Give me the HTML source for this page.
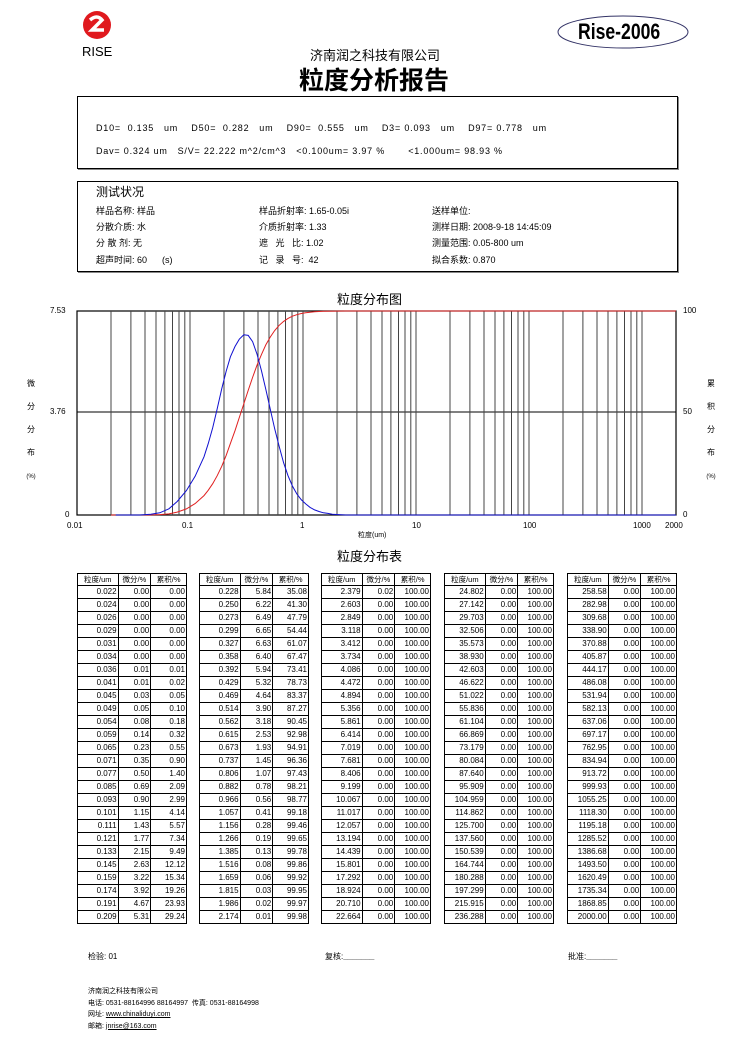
<!DOCTYPE html>
<html><head><meta charset="utf-8">
<style>
body{margin:0;background:#fff;}
#p{position:relative;width:739px;height:1062px;overflow:hidden;font-family:"Liberation Sans","Noto Sans CJK SC",sans-serif;color:#000;}
.a{position:absolute;white-space:nowrap;}
.box{position:absolute;border:1px solid #000;box-shadow:1px 1px 0 #888;}
.s{font-size:9px;}
.m{font-size:9px;letter-spacing:0.8px;}
table{position:absolute;border-collapse:collapse;font-size:8px;top:573px;}
td{border:1px solid #000;height:12px;padding:0 1px 0 0;text-align:right;line-height:12px;}
tr.h td{text-align:center;height:11px;line-height:11px;font-size:7.5px;padding:0;}
</style></head><body><div id="p">
<svg class="a" style="left:0;top:0" width="739" height="1062">
<circle cx="97" cy="25" r="14" fill="#e0191e"/>
<path d="M90 20 q7 -6 12 0 l-10 10 h12" stroke="#fff" stroke-width="3.5" fill="none"/>
<ellipse cx="623" cy="32" rx="65" ry="16" fill="none" stroke="#336" stroke-width="1"/>
<g stroke="#000" stroke-width="1">
<rect x="77" y="311" width="599" height="204" fill="none" stroke-width="1.2"/>
<line x1="77" y1="412" x2="676" y2="412"/>
<path d="M111 311V515M130.9 311V515M145 311V515M156 311V515M164.9 311V515M172.5 311V515M179 311V515M184.8 311V515M190 311V515M224 311V515M243.9 311V515M258 311V515M269 311V515M277.9 311V515M285.5 311V515M292 311V515M297.8 311V515M303 311V515M337 311V515M356.9 311V515M371 311V515M382 311V515M390.9 311V515M398.5 311V515M405 311V515M410.8 311V515M416 311V515M450 311V515M469.9 311V515M484 311V515M495 311V515M503.9 311V515M511.5 311V515M518 311V515M523.8 311V515M529 311V515M563 311V515M582.9 311V515M597 311V515M608 311V515M616.9 311V515M624.5 311V515M631 311V515M636.8 311V515M642 311V515" stroke="#444"/>
</g>
<polyline fill="none" stroke="#e02020" stroke-width="1" points="111,515 139.9,515 150.8,514.9 159.8,514.6 168.9,513.9 177.2,512.1 186.4,508.9 195.1,503.6 204,495.6 208.2,490.3 212.7,483.7 217.2,475.7 221.8,466.2 226.2,455.3 230.4,443.4 235,430.7 239.3,417.5 243.8,403.9 248.2,390.4 252.6,377.4 257,365.2 261.5,354.4 265.8,344.9 270.3,337 274.7,330.5 279.2,325.3 283.6,321.4 288,318.4 292.4,316.2 296.8,314.7 301.3,313.5 305.7,312.7 314.6,311.7 323.4,311.3 345.5,311 676,311"/>
<polyline fill="none" stroke="#1010d0" stroke-width="1" points="115.7,515 139.9,515 150.8,514.2 159.8,512.8 168.9,508.8 177.2,501.5 186.4,490.6 195.1,476.3 204,456.8 208.2,443.7 212.7,427.8 217.2,408.8 221.8,388.5 226.2,371.1 230.4,356.8 235,346.5 239.3,339.2 243.8,334.8 248.2,335.4 252.6,341.6 257,354.1 261.5,370.9 265.8,389.3 270.3,409.3 274.7,428.8 279.2,446.5 283.6,462.7 288,475.7 292.4,486 296.8,493.9 301.3,499.8 305.7,503.9 310.1,507.4 314.6,509.9 319,511.5 323.4,512.8 327.9,513.4 332.3,514.2 336.7,514.5 345.5,515 676,515"/>
</svg>
<div class="a" style="left:82px;top:44px;font-size:13px;">RISE</div>
<div class="a" style="left:578px;top:19px;font-size:22px;font-weight:bold;transform:scaleX(0.8);transform-origin:left;">Rise-2006</div>
<div class="a" style="left:310px;top:45px;font-size:13px;">济南润之科技有限公司</div>
<div class="a" style="left:299px;top:61px;font-size:25px;font-weight:bold;">粒度分析报告</div>

<div class="box" style="left:77px;top:96px;width:599px;height:71px;"></div>
<div class="a m" style="left:96px;top:123px;">D10=&nbsp; 0.135&nbsp;&nbsp; um&nbsp;&nbsp;&nbsp; D50=&nbsp; 0.282&nbsp;&nbsp; um&nbsp;&nbsp;&nbsp; D90=&nbsp; 0.555&nbsp;&nbsp; um&nbsp;&nbsp;&nbsp; D3= 0.093&nbsp;&nbsp; um&nbsp;&nbsp;&nbsp; D97= 0.778&nbsp;&nbsp; um</div>
<div class="a m" style="left:96px;top:146px;">Dav= 0.324 um&nbsp;&nbsp; S/V= 22.222 m^2/cm^3&nbsp;&nbsp; &lt;0.100um= 3.97 %&nbsp;&nbsp;&nbsp;&nbsp;&nbsp;&nbsp; &lt;1.000um= 98.93 %</div>

<div class="box" style="left:77px;top:181px;width:599px;height:89px;"></div>
<div class="a" style="left:96px;top:183px;font-size:12px;">测试状况</div>
<div class="a s" style="left:96px;top:204px;">样品名称: 样品</div>
<div class="a s" style="left:96px;top:220px;">分散介质: 水</div>
<div class="a s" style="left:96px;top:236px;">分 散 剂: 无</div>
<div class="a s" style="left:96px;top:253px;">超声时间: 60&nbsp;&nbsp;&nbsp;&nbsp;&nbsp; (s)</div>
<div class="a s" style="left:259px;top:204px;">样品折射率: 1.65-0.05i</div>
<div class="a s" style="left:259px;top:220px;">介质折射率: 1.33</div>
<div class="a s" style="left:259px;top:236px;">遮&nbsp;&nbsp; 光&nbsp;&nbsp; 比: 1.02</div>
<div class="a s" style="left:259px;top:253px;">记&nbsp;&nbsp; 录&nbsp;&nbsp; 号:&nbsp; 42</div>
<div class="a s" style="left:432px;top:204px;">送样单位:</div>
<div class="a s" style="left:432px;top:220px;">测样日期: 2008-9-18 14:45:09</div>
<div class="a s" style="left:432px;top:236px;">测量范围: 0.05-800 um</div>
<div class="a s" style="left:432px;top:253px;">拟合系数: 0.870</div>

<div class="a" style="left:337px;top:289px;font-size:13px;">粒度分布图</div>
<div class="a" style="left:50px;top:306px;font-size:8px;">7.53</div>
<div class="a" style="left:50px;top:407px;font-size:8px;">3.76</div>
<div class="a" style="left:65px;top:510px;font-size:8px;">0</div>
<div class="a" style="left:683px;top:306px;font-size:8px;">100</div>
<div class="a" style="left:683px;top:407px;font-size:8px;">50</div>
<div class="a" style="left:683px;top:510px;font-size:8px;">0</div>
<div class="a" style="left:25px;top:372px;font-size:8px;line-height:23px;text-align:center;width:12px;white-space:normal;">微<br>分<br>分<br>布<br><span style="font-size:6px;line-height:8px;">(%)</span></div>
<div class="a" style="left:705px;top:372px;font-size:8px;line-height:23px;text-align:center;width:12px;white-space:normal;">累<br>积<br>分<br>布<br><span style="font-size:6px;line-height:8px;">(%)</span></div>
<div class="a" style="left:67px;top:521px;font-size:8px;">0.01</div>
<div class="a" style="left:182px;top:521px;font-size:8px;">0.1</div>
<div class="a" style="left:300px;top:521px;font-size:8px;">1</div>
<div class="a" style="left:412px;top:521px;font-size:8px;">10</div>
<div class="a" style="left:523px;top:521px;font-size:8px;">100</div>
<div class="a" style="left:633px;top:521px;font-size:8px;">1000</div>
<div class="a" style="left:665px;top:521px;font-size:8px;">2000</div>
<div class="a" style="left:358px;top:530px;font-size:7px;">粒度(um)</div>
<div class="a" style="left:337px;top:546px;font-size:13px;">粒度分布表</div>

<table style="left:77px;width:110px"><colgroup><col style="width:41px"><col style="width:33px"><col style="width:36px"></colgroup>
<tr class="h"><td>粒度/um<td>微分/%<td>累积/%
<tr><td>0.022<td>0.00<td>0.00<tr><td>0.024<td>0.00<td>0.00<tr><td>0.026<td>0.00<td>0.00<tr><td>0.029<td>0.00<td>0.00<tr><td>0.031<td>0.00<td>0.00<tr><td>0.034<td>0.00<td>0.00<tr><td>0.036<td>0.01<td>0.01<tr><td>0.041<td>0.01<td>0.02<tr><td>0.045<td>0.03<td>0.05<tr><td>0.049<td>0.05<td>0.10<tr><td>0.054<td>0.08<td>0.18<tr><td>0.059<td>0.14<td>0.32<tr><td>0.065<td>0.23<td>0.55<tr><td>0.071<td>0.35<td>0.90<tr><td>0.077<td>0.50<td>1.40<tr><td>0.085<td>0.69<td>2.09<tr><td>0.093<td>0.90<td>2.99<tr><td>0.101<td>1.15<td>4.14<tr><td>0.111<td>1.43<td>5.57<tr><td>0.121<td>1.77<td>7.34<tr><td>0.133<td>2.15<td>9.49<tr><td>0.145<td>2.63<td>12.12<tr><td>0.159<td>3.22<td>15.34<tr><td>0.174<td>3.92<td>19.26<tr><td>0.191<td>4.67<td>23.93<tr><td>0.209<td>5.31<td>29.24
</table>
<table style="left:199px;width:110px"><colgroup><col style="width:41px"><col style="width:33px"><col style="width:36px"></colgroup>
<tr class="h"><td>粒度/um<td>微分/%<td>累积/%
<tr><td>0.228<td>5.84<td>35.08<tr><td>0.250<td>6.22<td>41.30<tr><td>0.273<td>6.49<td>47.79<tr><td>0.299<td>6.65<td>54.44<tr><td>0.327<td>6.63<td>61.07<tr><td>0.358<td>6.40<td>67.47<tr><td>0.392<td>5.94<td>73.41<tr><td>0.429<td>5.32<td>78.73<tr><td>0.469<td>4.64<td>83.37<tr><td>0.514<td>3.90<td>87.27<tr><td>0.562<td>3.18<td>90.45<tr><td>0.615<td>2.53<td>92.98<tr><td>0.673<td>1.93<td>94.91<tr><td>0.737<td>1.45<td>96.36<tr><td>0.806<td>1.07<td>97.43<tr><td>0.882<td>0.78<td>98.21<tr><td>0.966<td>0.56<td>98.77<tr><td>1.057<td>0.41<td>99.18<tr><td>1.156<td>0.28<td>99.46<tr><td>1.266<td>0.19<td>99.65<tr><td>1.385<td>0.13<td>99.78<tr><td>1.516<td>0.08<td>99.86<tr><td>1.659<td>0.06<td>99.92<tr><td>1.815<td>0.03<td>99.95<tr><td>1.986<td>0.02<td>99.97<tr><td>2.174<td>0.01<td>99.98
</table>
<table style="left:321px;width:110px"><colgroup><col style="width:41px"><col style="width:33px"><col style="width:36px"></colgroup>
<tr class="h"><td>粒度/um<td>微分/%<td>累积/%
<tr><td>2.379<td>0.02<td>100.00<tr><td>2.603<td>0.00<td>100.00<tr><td>2.849<td>0.00<td>100.00<tr><td>3.118<td>0.00<td>100.00<tr><td>3.412<td>0.00<td>100.00<tr><td>3.734<td>0.00<td>100.00<tr><td>4.086<td>0.00<td>100.00<tr><td>4.472<td>0.00<td>100.00<tr><td>4.894<td>0.00<td>100.00<tr><td>5.356<td>0.00<td>100.00<tr><td>5.861<td>0.00<td>100.00<tr><td>6.414<td>0.00<td>100.00<tr><td>7.019<td>0.00<td>100.00<tr><td>7.681<td>0.00<td>100.00<tr><td>8.406<td>0.00<td>100.00<tr><td>9.199<td>0.00<td>100.00<tr><td>10.067<td>0.00<td>100.00<tr><td>11.017<td>0.00<td>100.00<tr><td>12.057<td>0.00<td>100.00<tr><td>13.194<td>0.00<td>100.00<tr><td>14.439<td>0.00<td>100.00<tr><td>15.801<td>0.00<td>100.00<tr><td>17.292<td>0.00<td>100.00<tr><td>18.924<td>0.00<td>100.00<tr><td>20.710<td>0.00<td>100.00<tr><td>22.664<td>0.00<td>100.00
</table>
<table style="left:444px;width:110px"><colgroup><col style="width:41px"><col style="width:33px"><col style="width:36px"></colgroup>
<tr class="h"><td>粒度/um<td>微分/%<td>累积/%
<tr><td>24.802<td>0.00<td>100.00<tr><td>27.142<td>0.00<td>100.00<tr><td>29.703<td>0.00<td>100.00<tr><td>32.506<td>0.00<td>100.00<tr><td>35.573<td>0.00<td>100.00<tr><td>38.930<td>0.00<td>100.00<tr><td>42.603<td>0.00<td>100.00<tr><td>46.622<td>0.00<td>100.00<tr><td>51.022<td>0.00<td>100.00<tr><td>55.836<td>0.00<td>100.00<tr><td>61.104<td>0.00<td>100.00<tr><td>66.869<td>0.00<td>100.00<tr><td>73.179<td>0.00<td>100.00<tr><td>80.084<td>0.00<td>100.00<tr><td>87.640<td>0.00<td>100.00<tr><td>95.909<td>0.00<td>100.00<tr><td>104.959<td>0.00<td>100.00<tr><td>114.862<td>0.00<td>100.00<tr><td>125.700<td>0.00<td>100.00<tr><td>137.560<td>0.00<td>100.00<tr><td>150.539<td>0.00<td>100.00<tr><td>164.744<td>0.00<td>100.00<tr><td>180.288<td>0.00<td>100.00<tr><td>197.299<td>0.00<td>100.00<tr><td>215.915<td>0.00<td>100.00<tr><td>236.288<td>0.00<td>100.00
</table>
<table style="left:567px;width:110px"><colgroup><col style="width:41px"><col style="width:33px"><col style="width:36px"></colgroup>
<tr class="h"><td>粒度/um<td>微分/%<td>累积/%
<tr><td>258.58<td>0.00<td>100.00<tr><td>282.98<td>0.00<td>100.00<tr><td>309.68<td>0.00<td>100.00<tr><td>338.90<td>0.00<td>100.00<tr><td>370.88<td>0.00<td>100.00<tr><td>405.87<td>0.00<td>100.00<tr><td>444.17<td>0.00<td>100.00<tr><td>486.08<td>0.00<td>100.00<tr><td>531.94<td>0.00<td>100.00<tr><td>582.13<td>0.00<td>100.00<tr><td>637.06<td>0.00<td>100.00<tr><td>697.17<td>0.00<td>100.00<tr><td>762.95<td>0.00<td>100.00<tr><td>834.94<td>0.00<td>100.00<tr><td>913.72<td>0.00<td>100.00<tr><td>999.93<td>0.00<td>100.00<tr><td>1055.25<td>0.00<td>100.00<tr><td>1118.30<td>0.00<td>100.00<tr><td>1195.18<td>0.00<td>100.00<tr><td>1285.52<td>0.00<td>100.00<tr><td>1386.68<td>0.00<td>100.00<tr><td>1493.50<td>0.00<td>100.00<tr><td>1620.49<td>0.00<td>100.00<tr><td>1735.34<td>0.00<td>100.00<tr><td>1868.85<td>0.00<td>100.00<tr><td>2000.00<td>0.00<td>100.00
</table>

<div class="a" style="left:88px;top:951px;font-size:8px;">检验: 01</div>
<div class="a" style="left:325px;top:951px;font-size:8px;">复核:<b>_______</b></div>
<div class="a" style="left:568px;top:951px;font-size:8px;">批准:<b>_______</b></div>
<div class="a" style="left:88px;top:986px;font-size:7px;line-height:11.5px;">济南润之科技有限公司<br>电话: 0531-88164996 88164997&nbsp; 传真: 0531-88164998<br>网址: <u>www.chinaliduyi.com</u><br>邮箱: <u>jnrise@163.com</u></div>
</div></body></html>
